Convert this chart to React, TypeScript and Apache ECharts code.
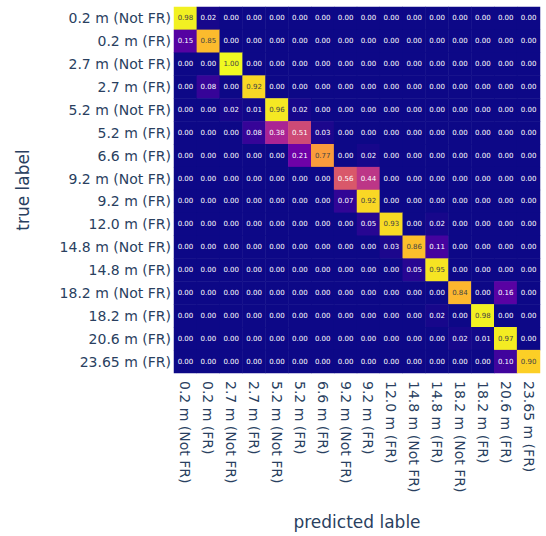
import React, { useEffect, useRef } from "react";
import * as echarts from "echarts";

const classLabels = [
  "0.2 m (Not FR)",
  "0.2 m (FR)",
  "2.7 m (Not FR)",
  "2.7 m (FR)",
  "5.2 m (Not FR)",
  "5.2 m (FR)",
  "6.6 m (FR)",
  "9.2 m (Not FR)",
  "9.2 m (FR)",
  "12.0 m (FR)",
  "14.8 m (Not FR)",
  "14.8 m (FR)",
  "18.2 m (Not FR)",
  "18.2 m (FR)",
  "20.6 m (FR)",
  "23.65 m (FR)",
];

// rows = true label, columns = predicted label
const confusion: number[][] = [
  [0.98, 0.02, 0, 0, 0, 0, 0, 0, 0, 0, 0, 0, 0, 0, 0, 0],
  [0.15, 0.85, 0, 0, 0, 0, 0, 0, 0, 0, 0, 0, 0, 0, 0, 0],
  [0, 0, 1.0, 0, 0, 0, 0, 0, 0, 0, 0, 0, 0, 0, 0, 0],
  [0, 0.08, 0, 0.92, 0, 0, 0, 0, 0, 0, 0, 0, 0, 0, 0, 0],
  [0, 0, 0.02, 0.01, 0.96, 0.02, 0, 0, 0, 0, 0, 0, 0, 0, 0, 0],
  [0, 0, 0, 0.08, 0.38, 0.51, 0.03, 0, 0, 0, 0, 0, 0, 0, 0, 0],
  [0, 0, 0, 0, 0, 0.21, 0.77, 0, 0.02, 0, 0, 0, 0, 0, 0, 0],
  [0, 0, 0, 0, 0, 0, 0, 0.56, 0.44, 0, 0, 0, 0, 0, 0, 0],
  [0, 0, 0, 0, 0, 0, 0, 0.07, 0.92, 0, 0, 0, 0, 0, 0, 0],
  [0, 0, 0, 0, 0, 0, 0, 0, 0.05, 0.93, 0, 0.02, 0, 0, 0, 0],
  [0, 0, 0, 0, 0, 0, 0, 0, 0, 0.03, 0.86, 0.11, 0, 0, 0, 0],
  [0, 0, 0, 0, 0, 0, 0, 0, 0, 0, 0.05, 0.95, 0, 0, 0, 0],
  [0, 0, 0, 0, 0, 0, 0, 0, 0, 0, 0, 0, 0.84, 0, 0.16, 0],
  [0, 0, 0, 0, 0, 0, 0, 0, 0, 0, 0, 0.02, 0, 0.98, 0, 0],
  [0, 0, 0, 0, 0, 0, 0, 0, 0, 0, 0, 0, 0.02, 0.01, 0.97, 0],
  [0, 0, 0, 0, 0, 0, 0, 0, 0, 0, 0, 0, 0, 0, 0.1, 0.9],
];

const plasma = [
  "#0d0887",
  "#46039f",
  "#7201a8",
  "#9c179e",
  "#bd3786",
  "#d8576b",
  "#ed7953",
  "#fb9f3a",
  "#fdca26",
  "#f0f921",
];

const xTitle = "predicted lable";
const yTitle = "true label";

export default function App() {
  const ref = useRef<HTMLDivElement>(null);

  useEffect(() => {
    document.body.style.margin = "0";
    if (!ref.current) return;
    const chart = echarts.init(ref.current, null, { renderer: "svg" });

    const data: any[] = [];
    confusion.forEach((row, r) => {
      row.forEach((v, c) => {
        data.push({
          value: [c, r, v],
          label: { color: v >= 0.65 ? "#444444" : "#ffffff" },
        });
      });
    });

    const font = "DejaVu Sans";
    const textColor = "#2a3f5f";

    chart.setOption({
      animation: false,
      backgroundColor: "#ffffff",
      grid: { left: 174, top: 7, width: 366, height: 366 },
      xAxis: {
        type: "category",
        data: classLabels,
        position: "bottom",
        axisLine: { show: false },
        axisTick: { show: false },
        splitLine: { show: false },
        axisLabel: {
          rotate: -90,
          margin: 8,
          interval: 0,
          color: textColor,
          fontFamily: font,
          fontSize: 14,
        },
        name: xTitle,
        nameLocation: "middle",
        nameGap: 140,
        nameTextStyle: { color: textColor, fontFamily: font, fontSize: 17 },
      },
      yAxis: {
        type: "category",
        data: classLabels,
        inverse: true,
        axisLine: { show: false },
        axisTick: { show: false },
        splitLine: { show: false },
        axisLabel: {
          margin: 3,
          interval: 0,
          color: textColor,
          fontFamily: font,
          fontSize: 14,
        },
        name: yTitle,
        nameLocation: "middle",
        nameGap: 143,
        nameTextStyle: { color: textColor, fontFamily: font, fontSize: 17 },
      },
      visualMap: {
        show: false,
        min: 0,
        max: 1,
        dimension: 2,
        inRange: { color: plasma },
      },
      series: [
        {
          type: "heatmap",
          data,
          label: {
            show: true,
            fontFamily: font,
            fontSize: 7,
            formatter: (p: any) => Number(p.value[2]).toFixed(2),
          },
          itemStyle: { borderWidth: 0 },
          emphasis: { disabled: true },
        },
      ],
    });

    return () => chart.dispose();
  }, []);

  return <div ref={ref} style={{ width: 546, height: 536 }} />;
}
